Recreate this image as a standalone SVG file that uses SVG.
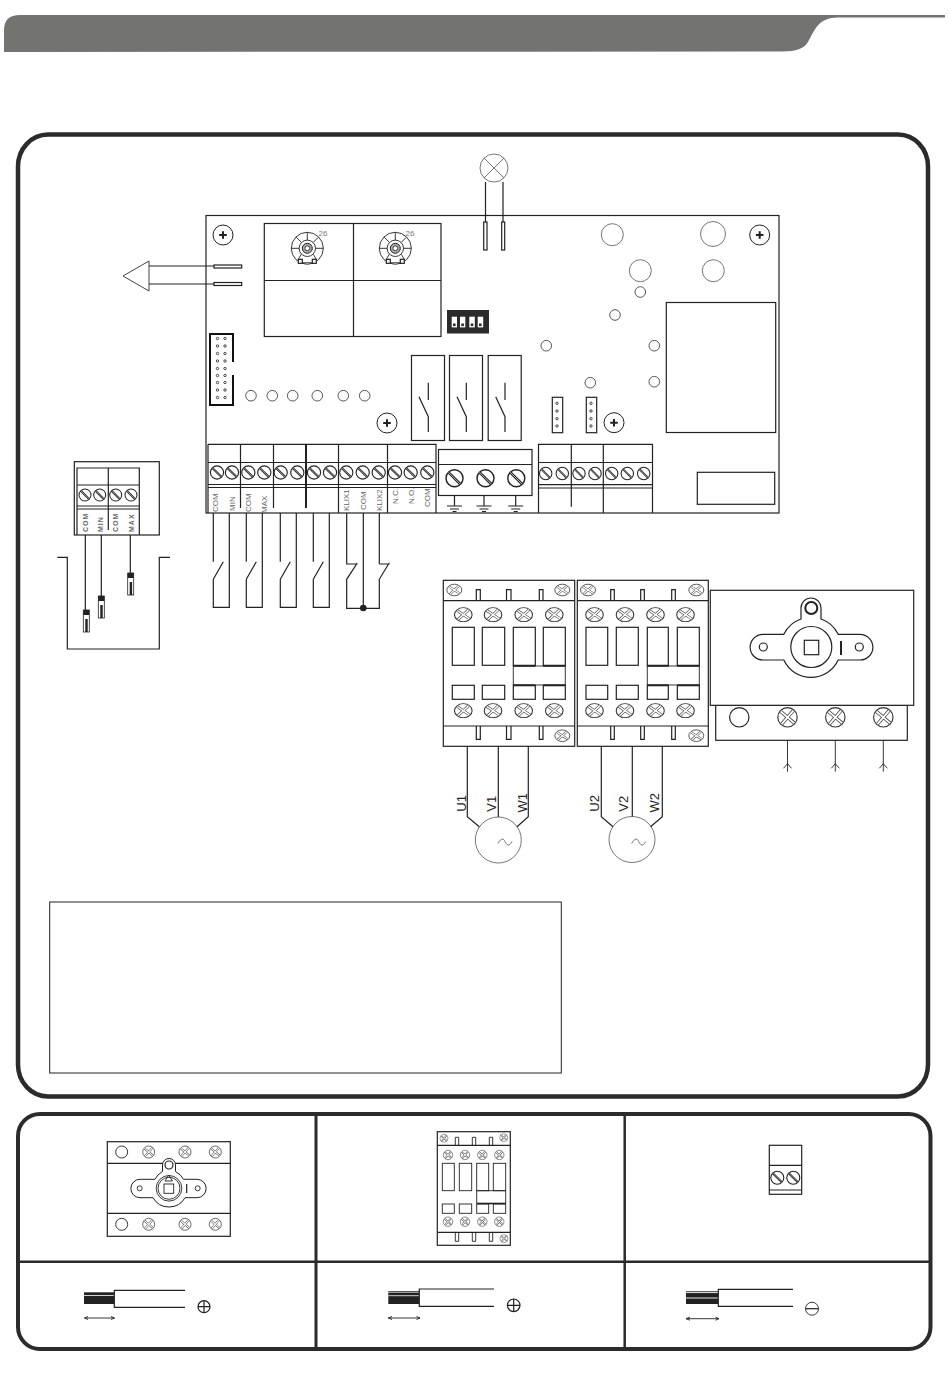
<svg xmlns="http://www.w3.org/2000/svg" width="950" height="1374" viewBox="0 0 950 1374">
<style>
.l{fill:none;stroke:#222;stroke-width:1.2}
.w{fill:#fff;stroke:#222;stroke-width:1.2}
.t{fill:none;stroke:#222;stroke-width:.9}
.g{fill:none;stroke:#666;stroke-width:.9}
.k{fill:none;stroke:#222;stroke-width:2}
.lab{font-family:"Liberation Sans",Arial,sans-serif;font-size:8px;fill:#666}
.blab{font-family:"Liberation Sans",Arial,sans-serif;font-size:7px;font-weight:bold;fill:#666;letter-spacing:1px}
.mot{font-family:"Liberation Sans",Arial,sans-serif;font-size:13px;fill:#222}
.pot{font-family:"Liberation Sans",Arial,sans-serif;font-size:8px;fill:#777}
</style>
<defs>
<g id="ss"><circle r="10" fill="#fff" stroke="#222" stroke-width="1.7"/><path d="M-7 -7L7 7" stroke="#222" stroke-width="3.2"/><path d="M-7 -7L7 7" stroke="#fff" stroke-width=".8"/></g>
<g id="xs"><circle r="10" fill="#fff" stroke="#333" stroke-width="1.2"/><path d="M-7 -6L7 6M-6 7L6 -7" stroke="#333" stroke-width="3.4"/><path d="M-7 -6L7 6M-6 7L6 -7" stroke="#fff" stroke-width="2"/></g>
<g id="mnt"><circle r="10" fill="#fff" stroke="#222" stroke-width="1"/><path d="M-3.8 0H3.8M0 -3.8V3.8" stroke="#222" stroke-width="2"/></g>
<g id="led"><circle r="5.3" fill="#fff" stroke="#444" stroke-width=".9"/></g>
<g id="pin"><circle r="1.2" fill="#fff" stroke="#333" stroke-width=".9"/></g>
<g id="probe"><rect width="6" height="22" fill="#fff" stroke="#222" stroke-width=".8"/><rect width="6" height="5" fill="#222"/><rect x="2" y="9" width="2.4" height="13" fill="#222"/></g>
<g id="relay"><rect x="411.500" y="355.500" width="33" height="85" class="w"/><path d="M428.300 382.700V400M419 396.700L428.300 416.700V432" class="l"/></g>
<g id="gnd"><path d="M0 0V10.500M-7.500 10.500H7.500M-4.500 13.500H4.500M-2 16H2" class="l"/></g>
<g id="nosw"><path d="M0 0V48.700M0 66.300L10 48.700M0 66.300V94.300H16V0" class="l"/></g>
<g id="pot"><circle r="16" class="t"/><circle r="8.200" class="t"/><circle r="5" fill="#aaa" stroke="#222" stroke-width="1"/><circle r="2.400" fill="#fff" stroke="#222" stroke-width=".8"/><path d="M0 -16V-8M-16 0H-8M8 0H16M-11 -11L-6 -6M11 -11L6 -6M-6 6L-9 11M6 6L9 11" class="t"/><rect x="-9" y="11" width="4" height="4" class="w"/><rect x="5" y="11" width="4" height="4" class="w"/><path d="M-5 14.500H5" class="t"/></g>
<g id="arr"><path d="M0 0V31.400M-4 28L0 23.400L4 28" class="t"/></g>
</defs>

<g id="header"><path d="M4 52V30Q4 15 20 15H945V17.500H838C818 17.500 815 30 808 42Q803 51.500 782 51.500Z" fill="#737371"/></g>

<g id="main-frame"><rect x="18" y="134.500" width="910" height="962" rx="30" ry="32" fill="#fff" stroke="#2b2b2b" stroke-width="4.500"/></g>

<g id="lower-frame"><rect x="18" y="1114" width="912.500" height="235" rx="22" ry="22" fill="#fff" stroke="#2b2b2b" stroke-width="4"/><path d="M18 1261.700H930" stroke="#2b2b2b" stroke-width="2.500"/><path d="M316 1114V1349" stroke="#2b2b2b" stroke-width="3"/><path d="M624.700 1114V1349" stroke="#2b2b2b" stroke-width="2.500"/></g>

<g id="board">
<rect x="206" y="215.500" width="573" height="297.500" class="w"/>
<use href="#mnt" x="223" y="235"/><use href="#mnt" x="759.700" y="235"/><use href="#mnt" x="387" y="423"/><use href="#mnt" x="614" y="422.700"/>
<g id="pots"><rect x="264.300" y="223.500" width="176.700" height="113" class="l"/><path d="M353.500 223.500V336.500M264.300 280.500H441" class="l"/>
<use href="#pot" x="307.300" y="248.300"/><use href="#pot" x="395.300" y="248.300"/>
<text x="318.500" y="236" class="pot">26</text><text x="405.500" y="236" class="pot">26</text></g>
<g id="output-pins"><rect x="214" y="265" width="27.700" height="3" class="w"/><rect x="214" y="282.500" width="27.700" height="3" class="w"/><rect x="483.700" y="222" width="3.300" height="28" class="w"/><rect x="501.700" y="222" width="3" height="28" class="w"/></g>
<g id="ribbon"><rect x="210" y="334" width="23" height="71" fill="#fff" stroke="#111" stroke-width="2"/><rect x="231" y="362" width="4" height="13" fill="#fff"/>
<use href="#pin" x="217.500" y="338.500"/><use href="#pin" x="225" y="338.500"/><use href="#pin" x="217.500" y="346"/><use href="#pin" x="225" y="346"/><use href="#pin" x="217.500" y="353.500"/><use href="#pin" x="225" y="353.500"/><use href="#pin" x="217.500" y="361"/><use href="#pin" x="225" y="361"/><use href="#pin" x="217.500" y="368.500"/><use href="#pin" x="225" y="368.500"/><use href="#pin" x="217.500" y="375.500"/><use href="#pin" x="225" y="375.500"/><use href="#pin" x="217.500" y="382.500"/><use href="#pin" x="225" y="382.500"/><use href="#pin" x="217.500" y="390"/><use href="#pin" x="225" y="390"/><use href="#pin" x="217.500" y="397.500"/><use href="#pin" x="225" y="397.500"/></g>
<g id="leds"><use href="#led" x="251" y="395.700"/><use href="#led" x="272.300" y="395.700"/><use href="#led" x="292.700" y="395.700"/><use href="#led" x="317.300" y="395.700"/><use href="#led" x="343.300" y="395.700"/><use href="#led" x="364.700" y="395.700"/></g>
<g id="dip"><rect x="447" y="310" width="42" height="23.500" fill="#2b2b2b"/><rect x="451.700" y="316.700" width="5.300" height="10.700" fill="#fff"/><rect x="460" y="316.700" width="5.300" height="10.700" fill="#fff"/><rect x="469.300" y="316.700" width="5.500" height="10.700" fill="#fff"/><rect x="477.700" y="316.700" width="5.500" height="10.700" fill="#fff"/><rect x="453" y="323.500" width="2.600" height="2.600" fill="#2b2b2b"/><rect x="461.300" y="323.500" width="2.600" height="2.600" fill="#2b2b2b"/><rect x="470.700" y="323.500" width="2.600" height="2.600" fill="#2b2b2b"/><rect x="479" y="323.500" width="2.600" height="2.600" fill="#2b2b2b"/></g>
<g id="relays"><use href="#relay"/><use href="#relay" x="38"/><use href="#relay" x="76.700"/></g>
<g id="terminal-left">
<path d="M208 444.300H436V513M208 444.300V513M208 462.500H436M208 484.500H436M208 487.500H436M240.500 444.300V508M273.500 444.300V508M338.500 444.300V513M387.500 444.300V513" class="l"/><path d="M306 444.300V508" stroke="#222" stroke-width="2"/>
<use href="#ss" transform="translate(217 472.500) scale(.66)"/><use href="#ss" transform="translate(232 472.500) scale(.66)"/><use href="#ss" transform="translate(248.300 472.500) scale(.66)"/><use href="#ss" transform="translate(264.300 472.500) scale(.66)"/><use href="#ss" transform="translate(280.700 472.500) scale(.66)"/><use href="#ss" transform="translate(297.300 472.500) scale(.66)"/><use href="#ss" transform="translate(314 472.500) scale(.66)"/><use href="#ss" transform="translate(330 472.500) scale(.66)"/><use href="#ss" transform="translate(346.300 472.500) scale(.66)"/><use href="#ss" transform="translate(362.700 472.500) scale(.66)"/><use href="#ss" transform="translate(378.700 472.500) scale(.66)"/><use href="#ss" transform="translate(395 472.500) scale(.66)"/><use href="#ss" transform="translate(410.700 472.500) scale(.66)"/><use href="#ss" transform="translate(427.300 472.500) scale(.66)"/>
<text class="lab" transform="translate(218 512) rotate(-90)">COM</text><text class="lab" transform="translate(234.500 511) rotate(-90)">MIN</text><text class="lab" transform="translate(251 512) rotate(-90)">COM</text><text class="lab" transform="translate(267 513) rotate(-90)">MAX</text><text class="lab" transform="translate(348.700 511) rotate(-90)">KLIX1</text><text class="lab" transform="translate(365.500 510) rotate(-90)">COM</text><text class="lab" transform="translate(382 511) rotate(-90)">KLIX2</text><text class="lab" transform="translate(398 504) rotate(-90)">N.C.</text><text class="lab" transform="translate(414 504) rotate(-90)">N.O.</text><text class="lab" transform="translate(430 507) rotate(-90)">COM</text>
</g>
<g id="terminal-ground"><rect x="438.500" y="449.500" width="93.500" height="46" class="l"/><path d="M438.500 464.500H532" class="l"/>
<use href="#ss" transform="translate(454.500 478.300) scale(.85)"/><use href="#ss" transform="translate(485.500 478.300) scale(.85)"/><use href="#ss" transform="translate(516.300 478.300) scale(.85)"/>
<use href="#gnd" x="454.500" y="495.500"/><use href="#gnd" x="484" y="495.500"/><use href="#gnd" x="515.700" y="495.500"/></g>
<g id="terminal-right"><path d="M538.500 513V444.300H652.500V513M538.500 462.500H652.500M538.500 484.700H652.500M538.500 488H652.500M571.300 444.300V506.700M603.300 444.300V513" class="l"/>
<use href="#ss" transform="translate(545.700 473.500) scale(.62)"/><use href="#ss" transform="translate(562.300 473.500) scale(.62)"/><use href="#ss" transform="translate(579 473.500) scale(.62)"/><use href="#ss" transform="translate(595 473.500) scale(.62)"/><use href="#ss" transform="translate(611.700 473.500) scale(.62)"/><use href="#ss" transform="translate(627.300 473.500) scale(.62)"/><use href="#ss" transform="translate(643.700 473.500) scale(.62)"/></g>
<g id="components"><rect x="666.300" y="302.500" width="109.400" height="130" class="l"/><rect x="697.300" y="472.300" width="77.400" height="32" class="l"/>
<circle cx="612.300" cy="234.700" r="11" class="g"/><circle cx="713" cy="234" r="12.500" class="g"/><circle cx="640.300" cy="270.700" r="11" class="g"/><circle cx="713.300" cy="270.700" r="11" class="g"/>
<use href="#led" x="640.300" y="292"/><use href="#led" x="615" y="315"/><use href="#led" x="546.300" y="345.700"/><use href="#led" x="654.300" y="345.700"/><use href="#led" x="590.300" y="382.700"/><use href="#led" x="654.300" y="381.700"/>
<rect x="552.300" y="397.300" width="10.400" height="35.400" class="l"/><rect x="586.300" y="397.300" width="10.400" height="35.400" class="l"/>
<use href="#pin" x="557" y="403.300"/><use href="#pin" x="557" y="411"/><use href="#pin" x="557" y="418.700"/><use href="#pin" x="557" y="426"/><use href="#pin" x="591" y="403.300"/><use href="#pin" x="591" y="411"/><use href="#pin" x="591" y="418.700"/><use href="#pin" x="591" y="426"/></g>
</g>

<g id="lamp"><circle cx="494" cy="168" r="14" class="g"/><path d="M484 158L504 178M504 158L484 178" class="g"/></g>
<g id="output-arrow"><path d="M123 276L149 261V291Z" fill="#fff" stroke="#444" stroke-width="1"/></g>

<g id="level-terminal"><rect x="74.300" y="461.700" width="85" height="73.300" class="w"/>
<path d="M77 535V468H139.300V535M77 485H139.300M77 506H139.300M77 509H139.300M108.300 468V530" class="l"/>
<use href="#ss" transform="translate(85 495) scale(.6)"/><use href="#ss" transform="translate(99.700 495) scale(.6)"/><use href="#ss" transform="translate(115.700 495) scale(.6)"/><use href="#ss" transform="translate(131 495) scale(.6)"/>
<text class="blab" transform="translate(87.500 532) rotate(-90)">COM</text><text class="blab" transform="translate(103 532) rotate(-90)">MIN</text><text class="blab" transform="translate(118.300 532) rotate(-90)">COM</text><text class="blab" transform="translate(133.500 532) rotate(-90)">MAX</text></g>
<g id="tank"><path d="M57.300 557.300H67.300V649H159.300V557.300H170" class="l"/><use href="#probe" x="83.300" y="610"/><use href="#probe" x="98.300" y="596"/><use href="#probe" x="127.700" y="573"/></g>

<g id="contactor-1"><rect x="443.300" y="580.300" width="131.400" height="166" class="w"/><path d="M443.300 600.700H574.700M443.300 726H574.700" class="l"/>
<path d="M476.300 600.700V589.700H480.300V600.700M506.500 600.700V589.700H511V600.700M539.300 600.700V589.700H543V600.700M476.300 726V739.300H480.300V726M506.500 726V739.300H511V726M539.300 726V739.300H543V726" class="l"/>
<rect x="452.300" y="627.300" width="22" height="38" class="l"/><rect x="482.300" y="627.300" width="22.400" height="38" class="l"/><rect x="513.300" y="627.300" width="22" height="38.500" class="l"/><rect x="543.300" y="627.300" width="22" height="38.500" class="l"/>
<rect x="452.300" y="685.300" width="22" height="14" class="l"/><rect x="482.300" y="685.300" width="22.400" height="14" class="l"/><rect x="513.300" y="685.300" width="22" height="14" class="l"/><rect x="543.300" y="685.300" width="22" height="14" class="l"/>
<path d="M513.300 665.800V685M565.300 665.800V685M535 685H543.500M535 666H543.500" class="t"/><path d="M513.300 665.800H535.300M543.300 665.800H565.300M513.300 685.300H535.300M543.300 685.300H565.300" class="k"/>
<use href="#xs" transform="translate(454.300 590) scale(.75 .58)"/><use href="#xs" transform="translate(562.300 590) scale(.75 .58)"/><use href="#xs" transform="translate(562.300 735.700) scale(.75 .58)"/>
<use href="#xs" transform="translate(463.300 614.700) scale(.88 .7)"/><use href="#xs" transform="translate(493 614.700) scale(.88 .7)"/><use href="#xs" transform="translate(523.700 614.700) scale(.88 .7)"/><use href="#xs" transform="translate(554.300 614.700) scale(.88 .7)"/>
<use href="#xs" transform="translate(463.300 710.700) scale(.88 .7)"/><use href="#xs" transform="translate(493 710.700) scale(.88 .7)"/><use href="#xs" transform="translate(523.700 710.700) scale(.88 .7)"/><use href="#xs" transform="translate(554.300 710.700) scale(.88 .7)"/></g>

<g id="contactor-2"><rect x="577.300" y="580.300" width="131" height="166" class="w"/><path d="M577.300 600.700H708.300M577.300 726H708.300" class="l"/>
<path d="M610.700 600.700V589.700H614.300V600.700M640.700 600.700V589.700H644.300V600.700M671.700 600.700V589.700H675.300V600.700M610.700 726V739.300H614.300V726M640.700 726V739.300H644.300V726M671.700 726V739.300H675.300V726" class="l"/>
<rect x="586" y="627.300" width="21.700" height="38" class="l"/><rect x="616.300" y="627.300" width="22" height="38" class="l"/><rect x="647.300" y="627.300" width="21" height="38.500" class="l"/><rect x="677.300" y="627.300" width="22" height="38.500" class="l"/>
<rect x="586" y="685.300" width="21.700" height="14" class="l"/><rect x="616.300" y="685.300" width="22" height="14" class="l"/><rect x="647.300" y="685.300" width="21" height="14" class="l"/><rect x="677.300" y="685.300" width="22" height="14" class="l"/>
<path d="M647.300 665.800V685M699.300 665.800V685M668 685H677.500M668 666H677.500" class="t"/><path d="M647.300 665.800H668.300M677.300 665.800H699.300M647.300 685.300H668.300M677.300 685.300H699.300" class="k"/>
<use href="#xs" transform="translate(588 590) scale(.75 .58)"/><use href="#xs" transform="translate(696.300 590) scale(.75 .58)"/><use href="#xs" transform="translate(696.300 735.700) scale(.75 .58)"/>
<use href="#xs" transform="translate(594.500 614.700) scale(.88 .7)"/><use href="#xs" transform="translate(625 614.700) scale(.88 .7)"/><use href="#xs" transform="translate(655.500 614.700) scale(.88 .7)"/><use href="#xs" transform="translate(685.500 614.700) scale(.88 .7)"/>
<use href="#xs" transform="translate(594.500 710.700) scale(.88 .7)"/><use href="#xs" transform="translate(625 710.700) scale(.88 .7)"/><use href="#xs" transform="translate(655.500 710.700) scale(.88 .7)"/><use href="#xs" transform="translate(685.500 710.700) scale(.88 .7)"/></g>

<g id="motor-1"><circle cx="498.300" cy="840" r="23" class="g"/><path d="M498 843.500C501 837.500 504 838.500 505 841.500S509 847.500 512 841.500" class="g"/>
<text class="mot" transform="translate(466 811.700) rotate(-90)">U1</text><text class="mot" transform="translate(495.700 811.700) rotate(-90)">V1</text><text class="mot" transform="translate(526.700 812.500) rotate(-90)">W1</text></g>
<g id="motor-2"><circle cx="632" cy="839.500" r="23" class="g"/><path d="M631.700 843.500C634.700 837.500 637.700 838.500 638.700 841.500S642.700 847.500 645.700 841.500" class="g"/>
<text class="mot" transform="translate(599 811.700) rotate(-90)">U2</text><text class="mot" transform="translate(628.300 811.700) rotate(-90)">V2</text><text class="mot" transform="translate(659 812.500) rotate(-90)">W2</text></g>

<g id="main-switch"><rect x="715.700" y="705.300" width="191.600" height="35" class="w"/><rect x="710.300" y="590.300" width="203.400" height="115" class="w"/>
<path d="M783.800 634.300H763A12.850 12.850 0 0 0 763 660H783.800A30 30 0 0 0 838.200 660H860A12.850 12.850 0 0 0 860 634.300H838.200A30 30 0 0 0 821 619V608A10 10 0 0 0 801 608V619A30 30 0 0 0 783.800 634.300Z" class="l"/>
<circle cx="811.300" cy="647" r="20.500" class="l"/><rect x="804.300" y="640.300" width="14.400" height="14.400" class="l"/>
<circle cx="811.300" cy="608" r="6" class="k"/><circle cx="763.300" cy="647" r="4" class="l"/><circle cx="859.300" cy="647" r="4" class="l"/><path d="M841 641V655" class="k"/>
<circle cx="739.300" cy="717.300" r="9.700" class="l"/>
<use href="#xs" transform="translate(787.500 717.300) scale(.97)"/><use href="#xs" transform="translate(835.300 717.300) scale(.97)"/><use href="#xs" transform="translate(883.300 717.300) scale(.97)"/></g>

<g id="connectors">
<path d="M485.500 222V182M503 222V182M149 266H214M149 284H214" class="l"/>
<path d="M85.300 535V610M101.300 535V596M130.300 535V573" class="l"/>
<use href="#nosw" x="213.300" y="513"/><use href="#nosw" x="246.300" y="513"/><use href="#nosw" x="280.300" y="513"/><use href="#nosw" x="313.300" y="513"/>
<path d="M346.700 513V564H357.300M357.300 563L346.700 579.300V608.300H379.300V579.300L389.300 562.700M379.300 564H389.300M379.300 513V564M363.300 513V608.300" class="l"/><circle cx="363.300" cy="608" r="3.300" fill="#222"/>
<path d="M467.300 746.300V816.700L479.300 826.700M498.300 746.300V817M528.300 746.300V816.700L517 826.700" class="l"/>
<path d="M601.300 746.300V816.700L613 826.700M632.300 746.300V816.500M662.300 746.300V816.700L650.500 826.700" class="l"/>
<use href="#arr" x="787.500" y="740.300"/><use href="#arr" x="835.300" y="740.300"/><use href="#arr" x="883.300" y="740.300"/>
</g>

<g id="note-box"><rect x="49.700" y="902" width="511.600" height="171" fill="#fff" stroke="#222" stroke-width="1"/></g>

<g id="mini-switch"><rect x="107.300" y="1141.700" width="123" height="94.600" class="w"/><path d="M107.300 1163.300H230.300M107.300 1213.300H230.300" class="l"/>
<path d="M155 1179.300H140A9.200 9.200 0 0 0 140 1197.700H153A18.400 18.400 0 0 0 185 1197.700H197A9.200 9.200 0 0 0 197 1179.300H183.500A18.400 18.400 0 0 0 175.500 1171.500V1165A6.500 6.500 0 0 0 162.500 1165V1171.500A18.400 18.400 0 0 0 155 1179.300Z" fill="#fff" stroke="#222" stroke-width="1"/>
<circle cx="169" cy="1188.300" r="12.800" class="t"/><circle cx="169" cy="1188.300" r="11" class="t"/><rect x="164" y="1184" width="9.700" height="9.300" class="t"/><path d="M165 1181L168.700 1175L172.500 1181Z" class="t"/>
<circle cx="169" cy="1165" r="4" class="l"/><circle cx="139.700" cy="1188.300" r="2.500" class="t"/><circle cx="197.700" cy="1188.300" r="2.500" class="t"/><path d="M186.700 1184V1193" class="l"/>
<circle cx="121.700" cy="1152" r="6" class="t"/><circle cx="121.700" cy="1224.300" r="6" class="t"/>
<use href="#xs" transform="translate(148.700 1152) scale(.6)"/><use href="#xs" transform="translate(185 1152) scale(.6)"/><use href="#xs" transform="translate(215.300 1152) scale(.6)"/><use href="#xs" transform="translate(148.700 1224.300) scale(.6)"/><use href="#xs" transform="translate(185 1224.300) scale(.6)"/><use href="#xs" transform="translate(215.300 1224.300) scale(.6)"/></g>

<g id="mini-contactor"><rect x="437.300" y="1131.700" width="73" height="113.600" class="w"/><path d="M437.300 1145.300H510.300M437.300 1232.300H510.300" class="l"/>
<path d="M455.300 1145.300V1137.300H458.700V1145.300M472.300 1145.300V1137.300H475.700V1145.300M489.300 1145.300V1137.300H492.700V1145.300M455.300 1232.300V1241.300H458.700V1232.300M472.300 1232.300V1241.300H475.700V1232.300M489.300 1232.300V1241.300H492.700V1232.300" class="t"/>
<rect x="442.300" y="1163.300" width="12" height="27.400" class="t"/><rect x="459.300" y="1163.300" width="12.400" height="27.400" class="t"/><rect x="476.700" y="1163.300" width="12" height="27.400" class="t"/><rect x="493.300" y="1163.300" width="12.400" height="27.400" class="t"/>
<rect x="442.300" y="1204" width="12" height="9.300" class="t"/><rect x="459.300" y="1204" width="12.400" height="9.300" class="t"/><rect x="476.700" y="1204" width="12" height="9.300" class="t"/><rect x="493.300" y="1204" width="12.400" height="9.300" class="t"/>
<path d="M476.700 1190.700V1203.500M505.700 1190.700V1203.500M476.700 1190.700H505.700" class="t"/><path d="M476.700 1203.500H505.700" fill="none" stroke="#222" stroke-width="1.600"/>
<use href="#xs" transform="translate(444 1138.300) scale(.4)"/><use href="#xs" transform="translate(503.700 1137.700) scale(.4)"/><use href="#xs" transform="translate(504 1238.700) scale(.4)"/>
<use href="#xs" transform="translate(448 1155) scale(.47)"/><use href="#xs" transform="translate(465 1155) scale(.47)"/><use href="#xs" transform="translate(482.300 1155) scale(.47)"/><use href="#xs" transform="translate(499.300 1155) scale(.47)"/>
<use href="#xs" transform="translate(448 1221.700) scale(.47)"/><use href="#xs" transform="translate(465 1221.700) scale(.47)"/><use href="#xs" transform="translate(482.300 1221.700) scale(.47)"/><use href="#xs" transform="translate(499.300 1221.700) scale(.47)"/></g>

<g id="mini-terminal"><rect x="769.300" y="1145.300" width="32.400" height="49" class="w"/><path d="M769.300 1165.300H801.700M769.300 1190H801.700" class="l"/>
<use href="#ss" transform="translate(777.300 1177.700) scale(.65)"/><use href="#ss" transform="translate(793.300 1177.700) scale(.65)"/></g>

<g id="cable-1"><rect x="84" y="1292.300" width="30.300" height="11.700" fill="#222"/><path d="M84 1295.500H114" stroke="#fff" stroke-width=".8"/><path d="M185 1290.300H114.300V1307.300H185" class="l"/>
<path d="M84.500 1318H114.500M88 1316.500L84.500 1318L88 1319.500M111 1316.500L114.500 1318L111 1319.500" class="t"/>
<circle cx="204" cy="1306.700" r="6" class="l"/><path d="M198 1306.700H210M204 1300.700V1312.700" class="l"/></g>
<g id="cable-2"><rect x="388.300" y="1291" width="30.700" height="13" fill="#222"/><path d="M388.300 1292.200H419M388.300 1295.700H419" stroke="#fff" stroke-width=".8"/><path d="M494 1289H419.300V1306.300H494" class="l"/>
<path d="M388.300 1318H420M392 1316.500L388.300 1318L392 1319.500M416.500 1316.500L420 1318L416.500 1319.500" class="t"/>
<circle cx="513.700" cy="1305.300" r="6.300" class="l"/><path d="M507.400 1305.300H520M513.700 1299V1311.600" class="l"/></g>
<g id="cable-3"><rect x="686" y="1291.300" width="32" height="12.700" fill="#222"/><path d="M686 1292.600H718M686 1298H718" stroke="#fff" stroke-width=".9"/><path d="M793 1289.300H718.300V1306.300H793" class="l"/>
<path d="M686 1318.700H719M690 1317.200L686 1318.700L690 1320.200M715.500 1317.200L719 1318.700L715.500 1320.200" class="t"/>
<circle cx="812" cy="1308.700" r="6.500" fill="none" stroke="#222" stroke-width=".9"/><path d="M805.500 1308.700H818.500" class="l"/></g>
</svg>
